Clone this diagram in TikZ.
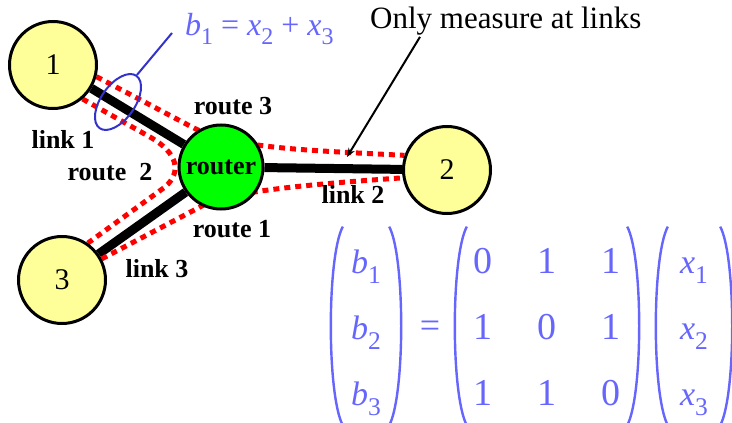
\documentclass[tikz,border=0pt]{standalone}
\usepackage{fontspec}
\setmainfont{Liberation Serif}
\usetikzlibrary{shapes.geometric,backgrounds,arrows.meta}
\definecolor{hostyellow}{RGB}{255,255,153}
\definecolor{routergreen}{RGB}{0,255,0}
\definecolor{eqblue}{RGB}{102,102,255}
\definecolor{probeblue}{RGB}{51,51,204}
\newcommand{\idx}[1]{\raisebox{-0.3em}{\scalebox{0.75}{#1}}}
\newcommand{\vb}[1]{\textit{b}\idx{#1}}
\newcommand{\vx}[1]{\textit{x}\idx{#1}}
\tikzset{
  host/.style={circle, draw, line width=3pt, fill=hostyellow, minimum size=87pt, inner sep=0pt,
    font=\fontsize{30}{34}\selectfont},
  hub/.style={circle, draw, line width=3pt, fill=routergreen, minimum size=84pt, inner sep=0pt,
    font=\fontsize{26}{30}\selectfont\bfseries},
  link/.style={line width=9pt},
  route/.style={red, line width=5pt, dash pattern=on 6pt off 5pt},
  lbl/.style={font=\fontsize{26}{30}\selectfont\bfseries, inner sep=0pt},
  probe/.style={ellipse, draw=probeblue, line width=2pt, minimum width=64pt, minimum height=34pt, inner sep=0pt},
  vec/.style={inner sep=0pt, minimum height=186pt, text=eqblue, font=\fontsize{34}{38}\selectfont},
  paren/.style={eqblue, line width=2.4pt},
}
\begin{document}
\begin{tikzpicture}[x=1pt,y=-1pt]
  \useasboundingbox (0,0) rectangle (732,423);
  % Nodes
  \node[host] (n1) at (53,65) {1};
  \node[hub] (router) at (221,167) {router};
  \node[host] (n2) at (447,170) {2};
  \node[host] (n3) at (62,280) {3};

  % Links and routes
  \begin{scope}[on background layer]
    \draw[link] (n1) -- (router);
    \draw[link] (router) -- (n2);
    \draw[link] (router) -- (n3);
    \draw[route] (n1.-15) -- (190,126) .. controls (230,148) and (300,150) .. (n2.161);
    \draw[route] (n1.-49) -- (150,137) .. controls (178,153) and (182,172) .. (165,187) -- (n3.55);
    \draw[route] (n3.28) -- (200,207) .. controls (225,192) and (300,185) .. (n2.190);
  \end{scope}

  % Labels
  \node[lbl] (r3) at (233,106) {route 3};
  \node[lbl] (l1) at (63,139) {link 1};
  \node[lbl] (r2) at (110,172) {route~~2};
  \node[lbl] (l2) at (353,194) {link 2};
  \node[lbl] (r1) at (232,229) {route 1};
  \node[lbl] (l3) at (157,269) {link 3};

  % Measurement on link 1
  \node[probe, rotate=55] (tap) at (118,102) {};
  \coordinate (tag) at (172,33);
  \draw[probeblue, line width=2pt] (tap.east) -- (tag);
  \node[anchor=base west, inner sep=0pt, text=eqblue, font=\fontsize{32}{36}\selectfont]
    (b1eq) at (185,35) {\vb{1} = \vx{2} + \vx{3}};

  % Note
  \node[anchor=base west, inner sep=0pt, font=\fontsize{31}{35}\selectfont]
    (note) at (370,28) {Only measure at links};
  \coordinate (meas) at (347,157);
  \draw[line width=2pt, -{Stealth[length=9pt,width=7pt]}] ([xshift=50pt,yshift=-2pt]note.south west) -- (meas);

  % Routing equation
  \renewcommand{\arraystretch}{1.74}
  \node[vec, minimum width=46pt] (bvec) at (366,326)
    {\begin{tabular}{@{}c@{}} \vb{1}\\ \vb{2}\\ \vb{3}\end{tabular}};
  \node[vec, minimum width=160pt, font=\fontsize{38}{38}\selectfont] (amat) at (547,326)
    {\begin{tabular}{@{}c@{\hspace{45pt}}c@{\hspace{45pt}}c@{}} 0&1&1\\ 1&0&1\\ 1&1&0\end{tabular}};
  \node[vec, minimum width=52pt] (xvec) at (694,326)
    {\begin{tabular}{@{}c@{}} \vx{1}\\ \vx{2}\\ \vx{3}\end{tabular}};
  \node[anchor=base, inner sep=0pt, text=eqblue, font=\fontsize{36}{38}\selectfont] (eqsign) at (430,337) {=};
  \foreach \v in {bvec,amat,xvec} {
    \draw[paren] (\v.north west) .. controls +(-16,30) and +(-16,-30) .. (\v.south west);
    \draw[paren] (\v.north east) .. controls +(16,30) and +(16,-30) .. (\v.south east);
  }
\end{tikzpicture}
\end{document}
